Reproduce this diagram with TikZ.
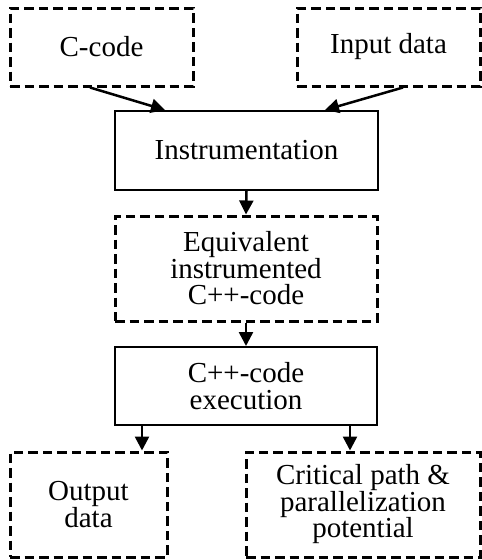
\documentclass[tikz,border=0pt]{standalone}
\usepackage{fontspec}
\setmainfont{Liberation Serif}
\usetikzlibrary{arrows.meta}
\begin{document}
\begin{tikzpicture}[x=1pt,y=-1pt,
  box/.style={draw, line width=2pt, align=center, inner sep=0pt,
    font=\fontsize{29}{26.5}\selectfont},
  databox/.style={box, line width=3pt, dash pattern=on 9.5pt off 5pt},
  flow/.style={line width=2.5pt, -{Triangle[length=14pt,width=14pt]}}]
\useasboundingbox (0,0) rectangle (482,560);
% inputs
\node[databox, minimum width=183pt, minimum height=78pt] (ccode) at (101.5,47) {C-code};
\node[databox, minimum width=183pt, minimum height=78pt] (input) at (388.5,47) {Input data};
% processing chain
\node[box, minimum width=263pt, minimum height=79pt] (instr) at (246.5,150.5) {Instrumentation};
\node[databox, minimum width=262pt, minimum height=105pt] (equiv) at (246,268.5) {Equivalent\\instrumented\\C++-code};
\node[box, minimum width=262pt, minimum height=78pt] (exec) at (246,386) {C++-code\\execution};
% outputs
\node[databox, minimum width=157pt, minimum height=105pt] (output) at (88.5,504.5) {Output\\data};
\node[databox, minimum width=234pt, minimum height=105pt] (crit) at (363,504.5) {Critical path \&\\parallelization\\potential};
% connectors
\draw[flow] ([xshift=-11.5pt]ccode.south) -- ([xshift=-81.5pt]instr.north);
\draw[flow] ([xshift=14.5pt]input.south) -- ([xshift=78.5pt]instr.north);
\draw[flow] (instr.south) -- (equiv.north);
\draw[flow] (equiv.south) -- (exec.north);
\draw[flow] ([xshift=-104pt]exec.south) -- ([xshift=53.5pt]output.north);
\draw[flow] ([xshift=104pt]exec.south) -- ([xshift=-13pt]crit.north);
\end{tikzpicture}
\end{document}
